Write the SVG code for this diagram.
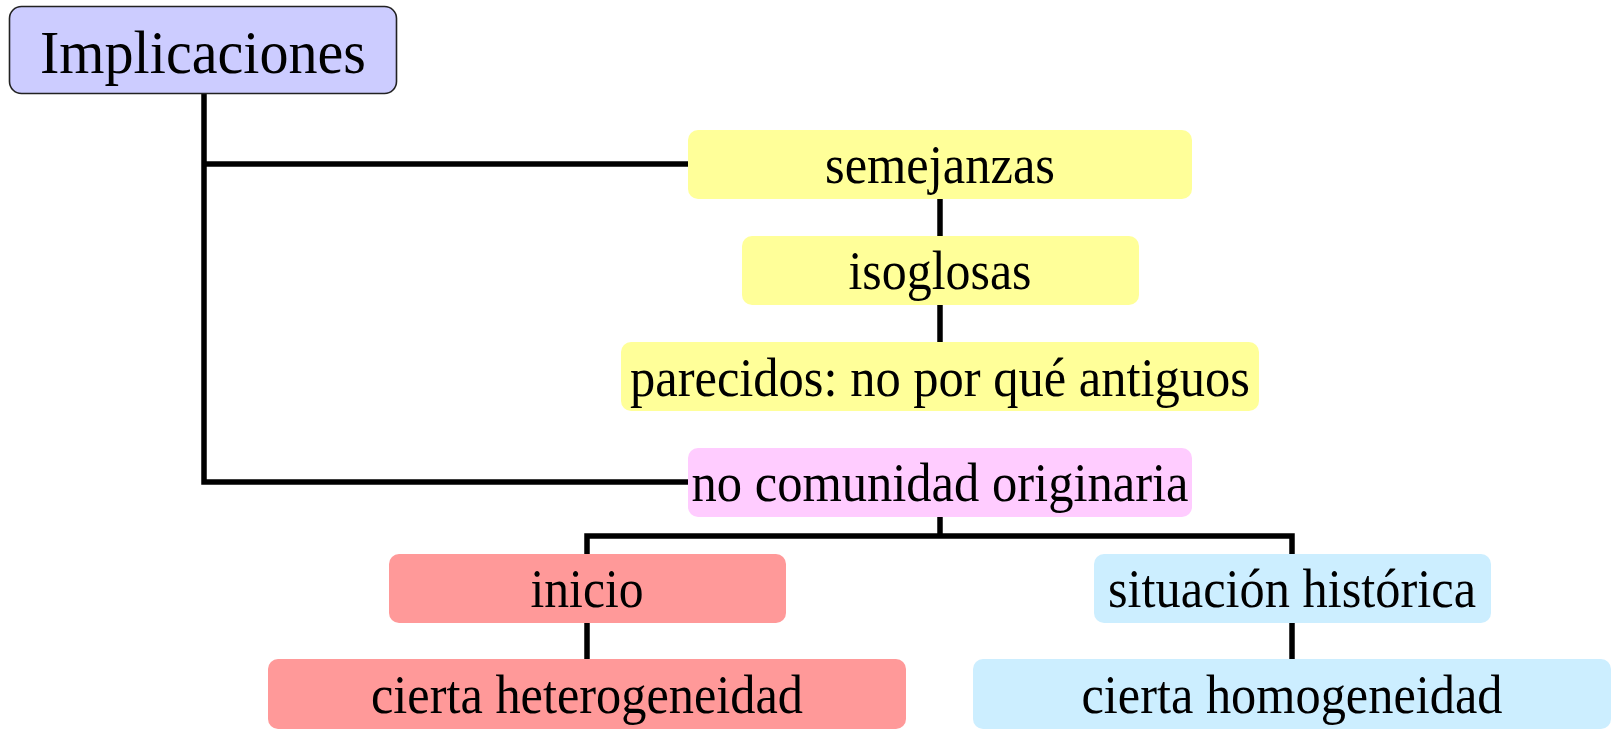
<svg xmlns="http://www.w3.org/2000/svg" width="1612" height="730" viewBox="0 0 1612 730">
<style>
.t{font-family:"Liberation Serif","Times New Roman",serif;font-size:54px;fill:#000;text-anchor:middle}
.c{fill:none;stroke:#000;stroke-width:5.5;stroke-linejoin:miter}
.y{fill:#ffff99}
.p{fill:#ffccff}
.r{fill:#ff9999}
.b{fill:#cceeff}
</style>
<rect width="1612" height="730" fill="#fff"/>
<g id="connectors">
<path class="c" d="M204,94 V482 H690"/>
<path class="c" d="M204,164 H690"/>
<path class="c" d="M940,197 V238"/>
<path class="c" d="M940,303 V344"/>
<path class="c" d="M940,515 V536"/>
<path class="c" d="M587,556 V536 H1292 V556"/>
<path class="c" d="M587,621 V661"/>
<path class="c" d="M1292,621 V661"/>
</g>
<g id="implicaciones">
<rect x="9.5" y="6.5" width="387" height="87" rx="12" fill="#ccccff" stroke="#222" stroke-width="1.6"/>
<text class="t" x="203" y="73" style="font-size:62px" textLength="326" lengthAdjust="spacingAndGlyphs">Implicaciones</text>
</g>
<g id="semejanzas">
<rect class="y" x="688" y="130" width="504" height="69" rx="10"/>
<text class="t" x="940" y="183" textLength="230" lengthAdjust="spacingAndGlyphs">semejanzas</text>
</g>
<g id="isoglosas">
<rect class="y" x="742" y="236" width="397" height="69" rx="10"/>
<text class="t" x="940" y="289" textLength="183" lengthAdjust="spacingAndGlyphs">isoglosas</text>
</g>
<g id="parecidos">
<rect class="y" x="621" y="342" width="638" height="69" rx="10"/>
<text class="t" x="940" y="396" textLength="620" lengthAdjust="spacingAndGlyphs">parecidos: no por qué antiguos</text>
</g>
<g id="no-comunidad">
<rect class="p" x="688" y="448" width="504" height="69" rx="10"/>
<text class="t" x="940" y="501" textLength="497" lengthAdjust="spacingAndGlyphs">no comunidad originaria</text>
</g>
<g id="inicio">
<rect class="r" x="389" y="554" width="397" height="69" rx="10"/>
<text class="t" x="587" y="607" textLength="113" lengthAdjust="spacingAndGlyphs">inicio</text>
</g>
<g id="heterogeneidad">
<rect class="r" x="268" y="659" width="638" height="70" rx="10"/>
<text class="t" x="587" y="713" textLength="432" lengthAdjust="spacingAndGlyphs">cierta heterogeneidad</text>
</g>
<g id="situacion">
<rect class="b" x="1094" y="554" width="397" height="69" rx="10"/>
<text class="t" x="1292" y="607" textLength="368" lengthAdjust="spacingAndGlyphs">situación histórica</text>
</g>
<g id="homogeneidad">
<rect class="b" x="973" y="659" width="638" height="70" rx="10"/>
<text class="t" x="1292" y="713" textLength="421" lengthAdjust="spacingAndGlyphs">cierta homogeneidad</text>
</g>
</svg>
